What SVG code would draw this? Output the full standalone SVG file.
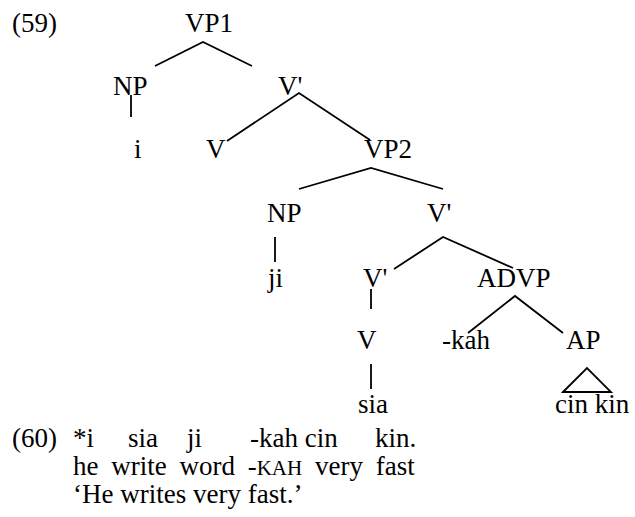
<svg xmlns="http://www.w3.org/2000/svg" width="635" height="517" viewBox="0 0 635 517">
  <style>
    text { font-family: "Liberation Serif", "Times New Roman", serif; font-size: 27px; fill: #000; }
    .sc { font-size: 21px; }
    .gloss { word-spacing: 6px; }
    .edge { stroke: #000; stroke-width: 1.8; fill: none; stroke-linecap: butt; }
  </style>
  <rect width="635" height="517" fill="#fff"/>

  <text id="ex59" x="12" y="32">(59)</text>

  <!-- tree branches -->
  <g id="connectors">
    <path class="edge" d="M155,66 L203,42 L252,66"/>
    <path class="edge" d="M131,95 L131,117"/>
    <path class="edge" d="M227,141 L299,93 L370,140"/>
    <path class="edge" d="M299,189 L371,168 L443,189"/>
    <path class="edge" d="M275,237 L275,262"/>
    <path class="edge" d="M394,269 L443,237 L513,268"/>
    <path class="edge" d="M371,289 L371,309"/>
    <path class="edge" d="M468,333 L515,296 L563,333"/>
    <path class="edge" d="M371,364 L371,389"/>
    <path class="edge" d="M563,392 L587,368 L611,392 Z"/>
  </g>

  <!-- tree nodes -->
  <g id="vp1"><text x="185" y="32">VP1</text></g>
  <g id="np1"><text x="113" y="95">NP</text></g>
  <g id="vbar1"><text x="278" y="95">V'</text></g>
  <g id="i"><text x="134" y="158">i</text></g>
  <g id="v1"><text x="206" y="158">V</text></g>
  <g id="vp2"><text x="364" y="158">VP2</text></g>
  <g id="np2"><text x="267" y="222">NP</text></g>
  <g id="vbar2"><text x="427" y="222">V'</text></g>
  <g id="ji"><text x="268" y="287">ji</text></g>
  <g id="vbar3"><text x="363" y="287">V'</text></g>
  <g id="advp"><text x="477" y="287">ADVP</text></g>
  <g id="v2"><text x="357" y="349">V</text></g>
  <g id="kah"><text x="442" y="349">-kah</text></g>
  <g id="ap"><text x="566" y="349">AP</text></g>
  <g id="sia"><text x="358" y="413">sia</text></g>
  <g id="cinkin"><text x="555" y="413">cin kin</text></g>

  <!-- example (60) -->
  <g id="ex60">
    <text x="12" y="447">(60)</text>
    <text x="73" y="447">*i</text>
    <text x="128" y="447">sia</text>
    <text x="187" y="447">ji</text>
    <text x="250" y="447">-kah cin</text>
    <text x="375" y="447">kin.</text>
    <text class="gloss" x="73" y="475">he write word -<tspan class="sc">KAH</tspan> very fast</text>
    <text x="73" y="503">‘He writes very fast.’</text>
  </g>
</svg>
